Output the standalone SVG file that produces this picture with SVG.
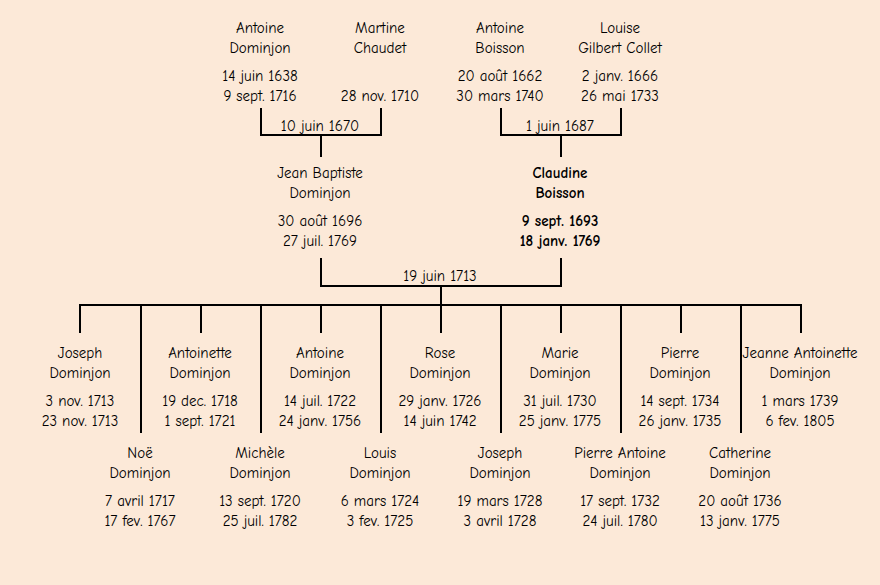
<svg xmlns="http://www.w3.org/2000/svg" width="880" height="585" viewBox="0 0 880 585">
<style>
text{font-family:"Comic Neue","Liberation Sans","DejaVu Sans",sans-serif;font-size:15px;fill:#000;text-anchor:middle}
.b{font-weight:bold}
.ln{stroke:#000;stroke-width:2;fill:none}
</style>
<rect width="880" height="585" fill="#fce9d8"/>
<g id="connectors">
<path class="ln" d="M261,108V135H381V108M321,135V157"/>
<path class="ln" d="M501,108V135H621V108M561,135V157"/>
<path class="ln" d="M321,258V286H561V258M441,286V305"/>
<path class="ln" d="M80,333V305H801V333"/>
<path class="ln" d="M201,305V333M321,305V333M441,305V333M561,305V333M681,305V333"/>
<path class="ln" d="M141,305V433M261,305V433M381,305V433M501,305V433M621,305V433M741,305V433"/>
<text x="320" y="131">10 juin 1670</text>
<text x="560" y="131">1 juin 1687</text>
<text x="440" y="281">19 juin 1713</text>
</g>
<g id="antoine-dominjon"><text x="260" y="33">Antoine</text><text x="260" y="53">Dominjon</text><text x="260" y="81">14 juin 1638</text><text x="260" y="101">9 sept. 1716</text></g>
<g id="martine-chaudet"><text x="380" y="33">Martine</text><text x="380" y="53">Chaudet</text><text x="380" y="101">28 nov. 1710</text></g>
<g id="antoine-boisson"><text x="500" y="33">Antoine</text><text x="500" y="53">Boisson</text><text x="500" y="81">20 août 1662</text><text x="500" y="101">30 mars 1740</text></g>
<g id="louise-gilbert-collet"><text x="620" y="33">Louise</text><text x="620" y="53">Gilbert Collet</text><text x="620" y="81">2 janv. 1666</text><text x="620" y="101">26 mai 1733</text></g>
<g id="jean-baptiste-dominjon"><text x="320" y="178">Jean Baptiste</text><text x="320" y="198">Dominjon</text><text x="320" y="226">30 août 1696</text><text x="320" y="246">27 juil. 1769</text></g>
<g id="claudine-boisson"><text class="b" x="560" y="178">Claudine</text><text class="b" x="560" y="198">Boisson</text><text class="b" x="560" y="226">9 sept. 1693</text><text class="b" x="560" y="246">18 janv. 1769</text></g>
<g id="joseph-1713"><text x="80" y="358">Joseph</text><text x="80" y="378">Dominjon</text><text x="80" y="406">3 nov. 1713</text><text x="80" y="426">23 nov. 1713</text></g>
<g id="antoinette"><text x="200" y="358">Antoinette</text><text x="200" y="378">Dominjon</text><text x="200" y="406">19 dec. 1718</text><text x="200" y="426">1 sept. 1721</text></g>
<g id="antoine-1722"><text x="320" y="358">Antoine</text><text x="320" y="378">Dominjon</text><text x="320" y="406">14 juil. 1722</text><text x="320" y="426">24 janv. 1756</text></g>
<g id="rose"><text x="440" y="358">Rose</text><text x="440" y="378">Dominjon</text><text x="440" y="406">29 janv. 1726</text><text x="440" y="426">14 juin 1742</text></g>
<g id="marie"><text x="560" y="358">Marie</text><text x="560" y="378">Dominjon</text><text x="560" y="406">31 juil. 1730</text><text x="560" y="426">25 janv. 1775</text></g>
<g id="pierre"><text x="680" y="358">Pierre</text><text x="680" y="378">Dominjon</text><text x="680" y="406">14 sept. 1734</text><text x="680" y="426">26 janv. 1735</text></g>
<g id="jeanne-antoinette"><text x="800" y="358">Jeanne Antoinette</text><text x="800" y="378">Dominjon</text><text x="800" y="406">1 mars 1739</text><text x="800" y="426">6 fev. 1805</text></g>
<g id="noe"><text x="140" y="458">Noë</text><text x="140" y="478">Dominjon</text><text x="140" y="506">7 avril 1717</text><text x="140" y="526">17 fev. 1767</text></g>
<g id="michele"><text x="260" y="458">Michèle</text><text x="260" y="478">Dominjon</text><text x="260" y="506">13 sept. 1720</text><text x="260" y="526">25 juil. 1782</text></g>
<g id="louis"><text x="380" y="458">Louis</text><text x="380" y="478">Dominjon</text><text x="380" y="506">6 mars 1724</text><text x="380" y="526">3 fev. 1725</text></g>
<g id="joseph-1728"><text x="500" y="458">Joseph</text><text x="500" y="478">Dominjon</text><text x="500" y="506">19 mars 1728</text><text x="500" y="526">3 avril 1728</text></g>
<g id="pierre-antoine"><text x="620" y="458">Pierre Antoine</text><text x="620" y="478">Dominjon</text><text x="620" y="506">17 sept. 1732</text><text x="620" y="526">24 juil. 1780</text></g>
<g id="catherine"><text x="740" y="458">Catherine</text><text x="740" y="478">Dominjon</text><text x="740" y="506">20 août 1736</text><text x="740" y="526">13 janv. 1775</text></g>
</svg>
